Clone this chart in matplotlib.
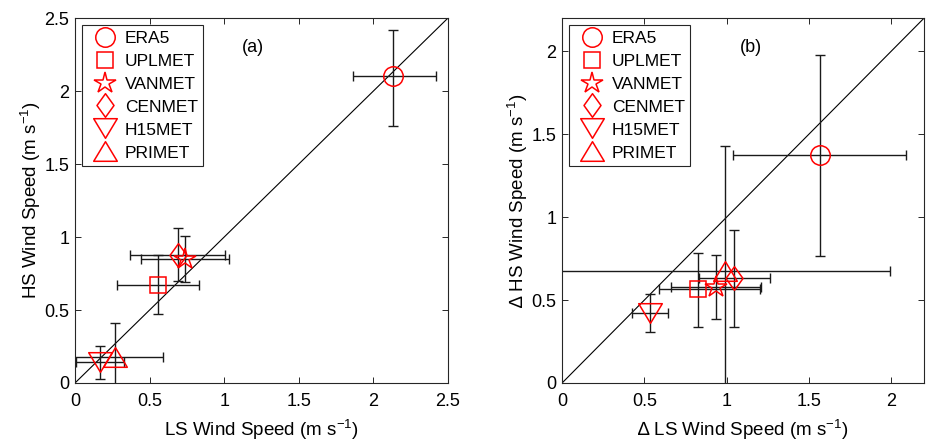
import matplotlib
matplotlib.use("Agg")
import matplotlib.pyplot as plt
from matplotlib.path import Path
from matplotlib.ticker import FormatStrFormatter

plt.rcParams['font.family'] = ['Liberation Sans', 'DejaVu Sans']
plt.rcParams['mathtext.fontset'] = 'custom'
plt.rcParams['mathtext.rm'] = 'Liberation Sans'
plt.rcParams['mathtext.it'] = 'Liberation Sans:italic'

# ---------------- data ----------------
names = ['ERA5', 'UPLMET', 'VANMET', 'CENMET', 'H15MET', 'PRIMET']

# panel (a): LS vs HS wind speed
a_x    = [2.13, 0.555, 0.738, 0.687, 0.168, 0.268]
a_y    = [2.10, 0.67, 0.847, 0.88, 0.144, 0.178]
a_x_lo = [1.86, 0.28, 0.44, 0.37, 0.008, -0.05]
a_x_hi = [2.42, 0.83, 1.03, 1.007, 0.33, 0.59]
a_y_lo = [1.76, 0.47, 0.69, 0.70, 0.03, -0.05]
a_y_hi = [2.42, 0.877, 1.01, 1.064, 0.255, 0.41]

# panel (b): delta LS vs delta HS wind speed
b_x    = [1.568, 0.823, 0.936, 1.046, 0.535, 0.989]
b_y    = [1.375, 0.565, 0.58, 0.63, 0.42, 0.675]
b_x_lo = [1.04, 0.59, 0.662, 0.83, 0.427, -0.01]
b_x_hi = [2.09, 1.20, 1.21, 1.264, 0.643, 1.99]
b_y_lo = [0.765, 0.335, 0.385, 0.34, 0.31, -0.08]
b_y_hi = [1.98, 0.785, 0.77, 0.92, 0.536, 1.43]

a_ticks = [0, 0.5, 1, 1.5, 2, 2.5]
b_ticks = [0, 0.5, 1, 1.5, 2]

# ---------------- markers ----------------
diamond = Path([(0, 1), (0.72, 0), (0, -1), (-0.72, 0), (0, 1)],
               [Path.MOVETO, Path.LINETO, Path.LINETO, Path.LINETO, Path.CLOSEPOLY])
tri_down = Path([(-1, 0.83), (1, 0.83), (0, -0.83), (-1, 0.83)],
                [Path.MOVETO, Path.LINETO, Path.LINETO, Path.CLOSEPOLY])
tri_up = Path([(-1, -0.83), (1, -0.83), (0, 0.83), (-1, -0.83)],
              [Path.MOVETO, Path.LINETO, Path.LINETO, Path.CLOSEPOLY])
markers = ['o', 's', '*', diamond, tri_down, tri_up]
msizes = [14, 11.5, 16, 17, 17, 17]

red = '#ff0000'
axcol = '#262626'

fig = plt.figure(figsize=(9.26, 4.44), dpi=100)
ax1 = fig.add_axes([0.081, 0.1374, 0.4028, 0.822])
ax2 = fig.add_axes([0.607, 0.1374, 0.391, 0.822])


def draw(ax, xs, ys, xlo, xhi, ylo, yhi, lim, ticks, label, lx, ly, xl, yl):
    ax.plot([0, lim], [0, lim], color='black', lw=0.8, zorder=1)
    handles = []
    for i in range(len(names)):
        ax.errorbar(xs[i], ys[i],
                    xerr=[[xs[i] - xlo[i]], [xhi[i] - xs[i]]],
                    yerr=[[ys[i] - ylo[i]], [yhi[i] - ys[i]]],
                    fmt='none', ecolor='#1a1a1a', elinewidth=1.0,
                    capsize=3.5, capthick=1.0, zorder=2)
        h, = ax.plot(xs[i], ys[i], linestyle='none', marker=markers[i],
                     markersize=msizes[i], markerfacecolor='none',
                     markeredgecolor=red, markeredgewidth=1.1, zorder=3,
                     label=names[i])
        handles.append(h)
    ax.set_xlim(0, lim)
    ax.set_ylim(0, lim)
    ax.set_xticks(ticks)
    ax.set_yticks(ticks)
    ax.xaxis.set_major_formatter(FormatStrFormatter('%g'))
    ax.yaxis.set_major_formatter(FormatStrFormatter('%g'))
    ax.tick_params(direction='in', top=True, right=True, length=4,
                   width=0.7, color=axcol, labelsize=13)
    ax.tick_params(axis='x', pad=7)
    ax.tick_params(axis='y', pad=4)
    for s in ax.spines.values():
        s.set_color(axcol)
        s.set_linewidth(0.8)
    ax.set_xlabel(xl, fontsize=13.5, labelpad=6)
    ax.set_ylabel(yl, fontsize=13.5, labelpad=1)
    ax.text(lx, ly, label, fontsize=13, ha='center', va='center')
    leg = ax.legend(handles=handles, loc='upper left', fontsize=12.5,
                    fancybox=False, framealpha=1, edgecolor=axcol,
                    borderaxespad=0.42, handlelength=2.0, handletextpad=0.15,
                    labelspacing=0.45, borderpad=0.3, numpoints=1)
    leg.get_frame().set_linewidth(0.8)


draw(ax1, a_x, a_y, a_x_lo, a_x_hi, a_y_lo, a_y_hi, 2.5, a_ticks, '(a)',
     1.19, 2.3, 'LS Wind Speed (m s$^{-1}$)', 'HS Wind Speed (m s$^{-1}$)')
draw(ax2, b_x, b_y, b_x_lo, b_x_hi, b_y_lo, b_y_hi, 2.2, b_ticks, '(b)',
     1.15, 2.02, '\u2206 LS Wind Speed (m s$^{-1}$)', '\u2206 HS Wind Speed (m s$^{-1}$)')

fig.savefig('out.png', dpi=100)
